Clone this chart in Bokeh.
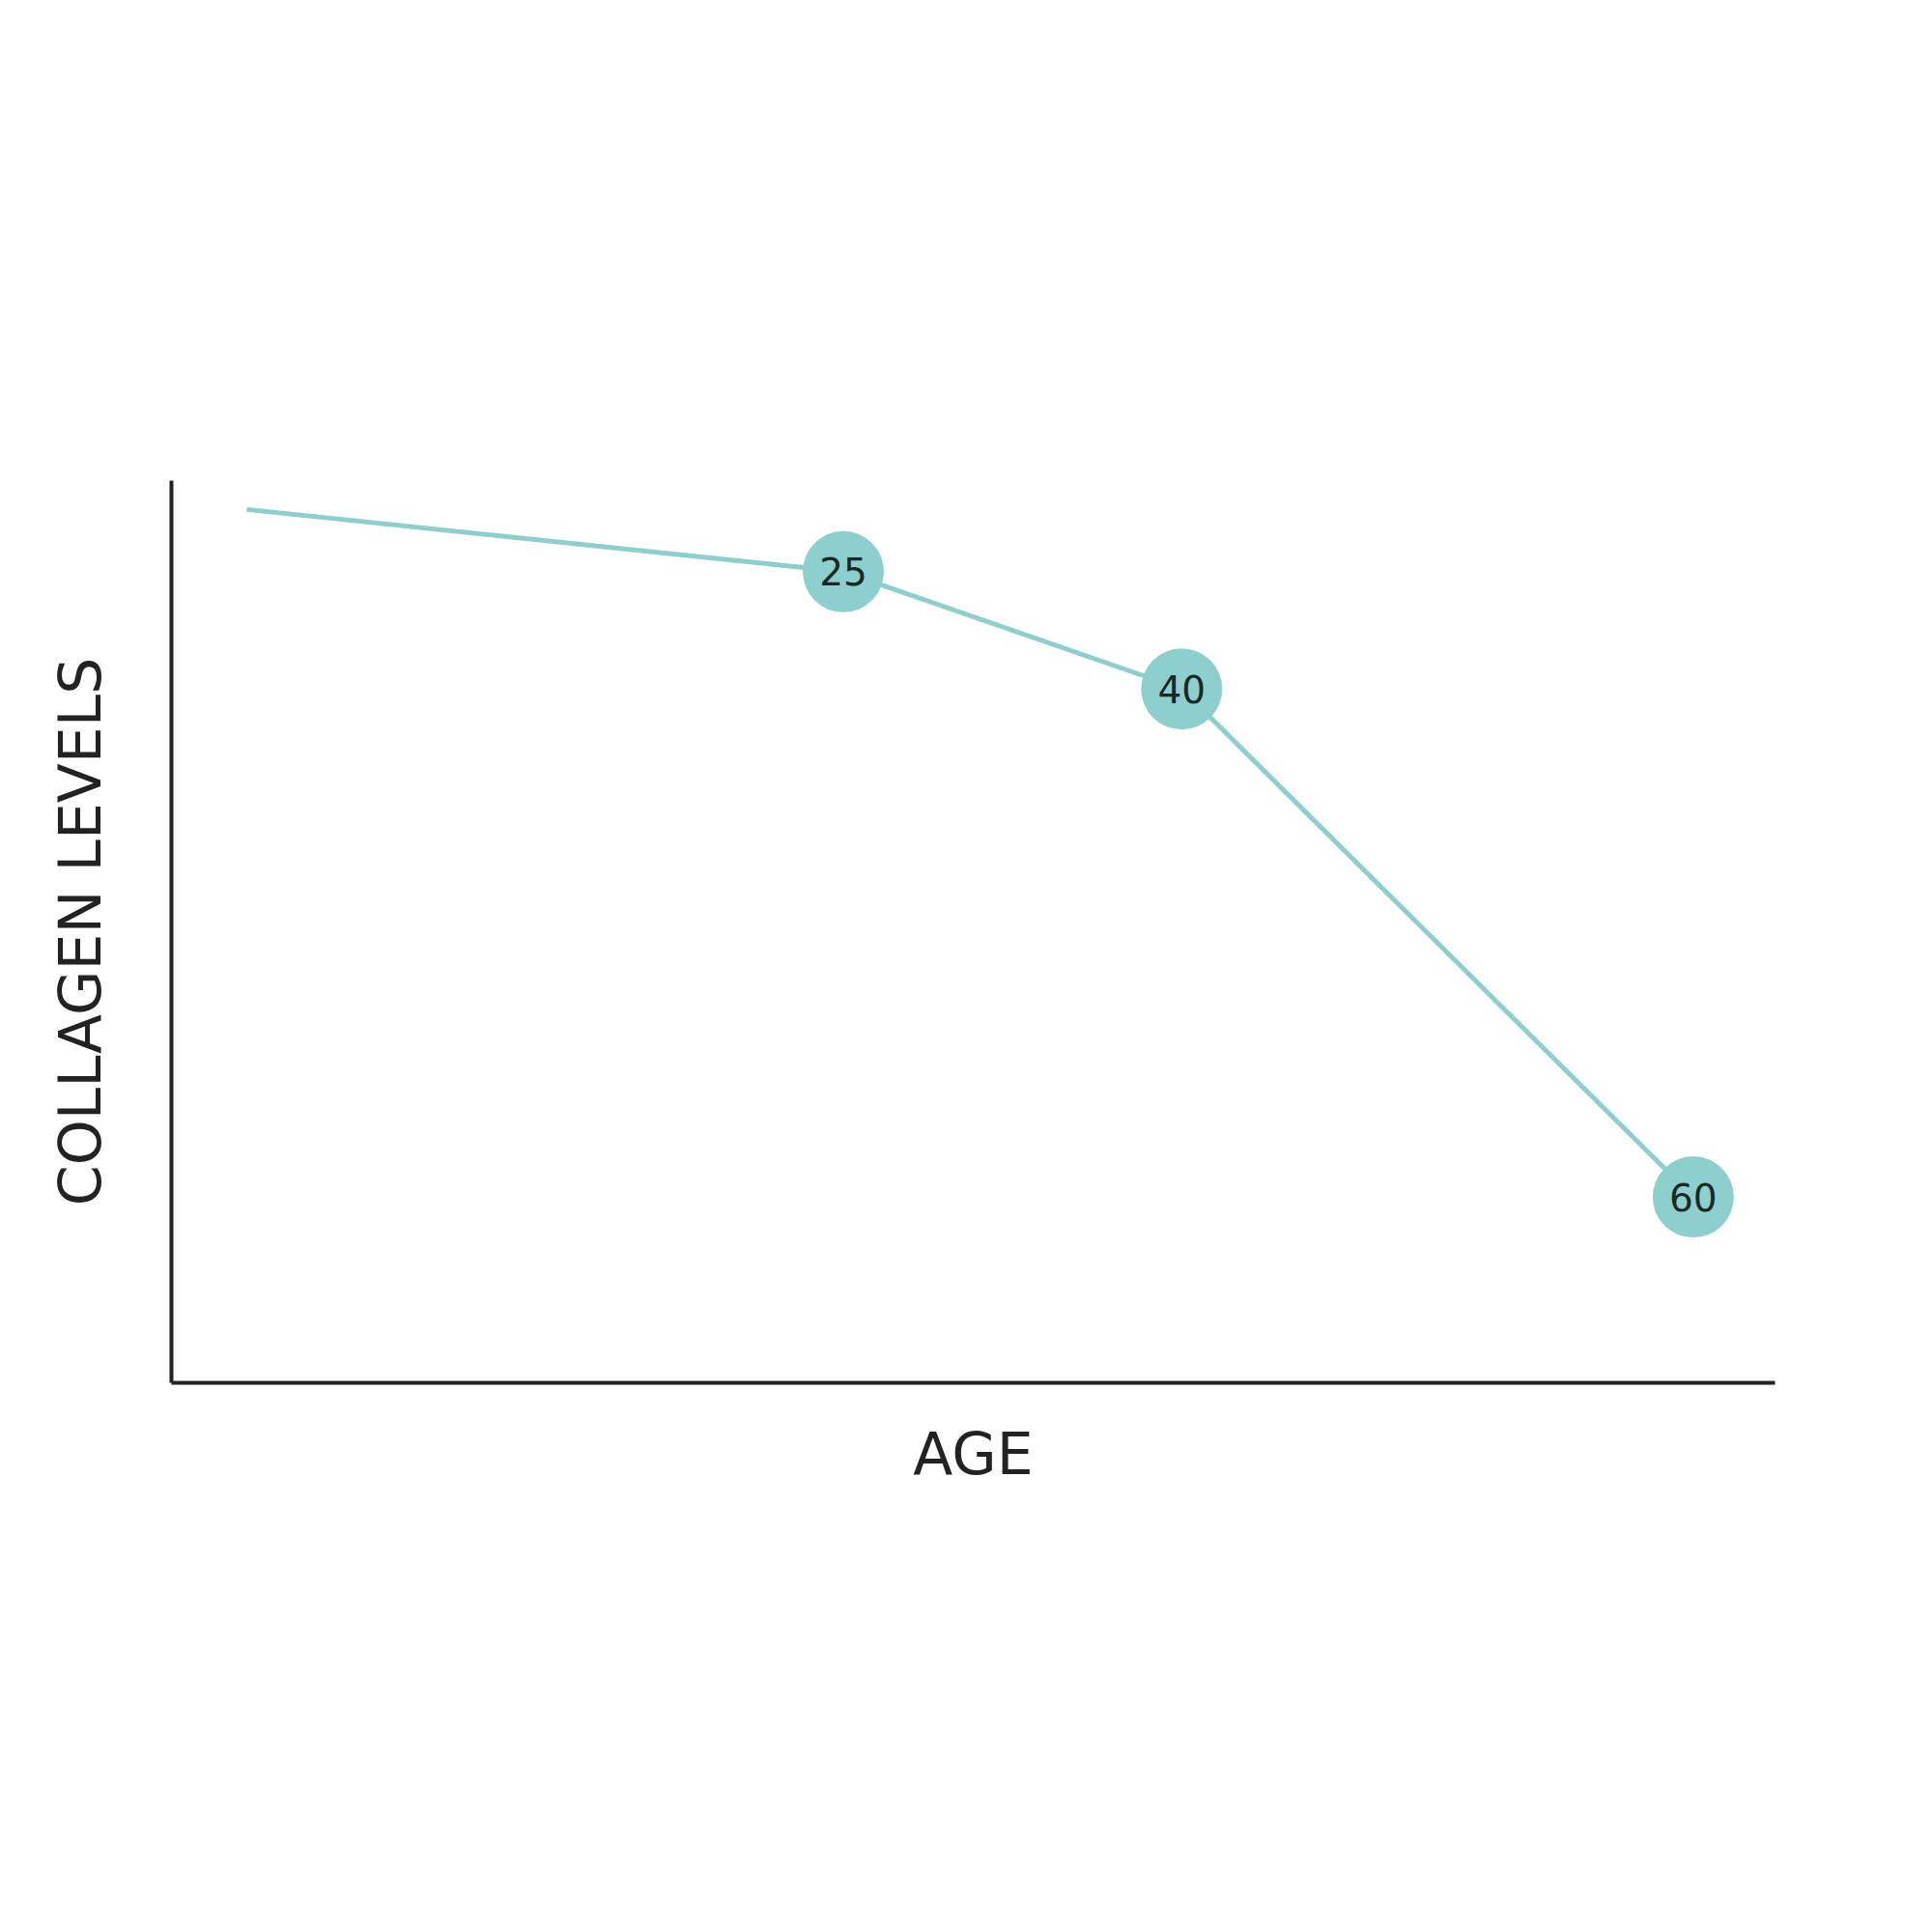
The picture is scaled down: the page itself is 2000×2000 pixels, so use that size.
from bokeh.plotting import figure
from bokeh.models import Range1d, ColumnDataSource
from bokeh.core.properties import value
from bokeh.embed import file_html
from bokeh.resources import INLINE

# data (abstract positions)
x_pos = [4.7, 41.9, 63.0, 94.9]
collagen = [96.8, 89.9, 76.9, 20.6]
age_labels = ["", "25", "40", "60"]

teal = "#8dcfcc"
dark = "#222222"
font = "DejaVu Sans"

p = figure(width=1984, height=1984, output_backend="svg", toolbar_location=None,
           x_range=Range1d(0, 100), y_range=Range1d(0, 100),
           min_border_left=177, min_border_right=147,
           min_border_top=497, min_border_bottom=553)
p.outline_line_color = None
p.xgrid.visible = False
p.ygrid.visible = False
p.background_fill_color = "white"
p.border_fill_color = "white"

for ax in (p.xaxis, p.yaxis):
    ax.ticker = []
    ax.major_tick_line_color = None
    ax.minor_tick_line_color = None
    ax.major_label_text_font_size = "0px"
    ax.axis_line_color = dark
    ax.axis_line_width = 4
    ax.axis_label_text_font = font
    ax.axis_label_text_font_style = "normal"
    ax.axis_label_text_font_size = "60px"
    ax.axis_label_text_color = dark

p.xaxis.axis_label = "AGE"
p.yaxis.axis_label = "COLLAGEN LEVELS"
p.xaxis.axis_label_standoff = 38
p.yaxis.axis_label_standoff = 60

src = ColumnDataSource(dict(x=x_pos, y=collagen, label=age_labels))
pts = ColumnDataSource(dict(x=x_pos[1:], y=collagen[1:], label=age_labels[1:]))

p.line("x", "y", source=src, line_color=teal, line_width=5)
p.scatter("x", "y", source=pts, size=84, fill_color=teal, line_color=None)
p.text("x", "y", text="label", source=pts, text_align="center", text_baseline="middle",
       text_font=value(font), text_font_size="39px", text_color="#1b2626")

open("out.html", "w").write(file_html(p, INLINE))
